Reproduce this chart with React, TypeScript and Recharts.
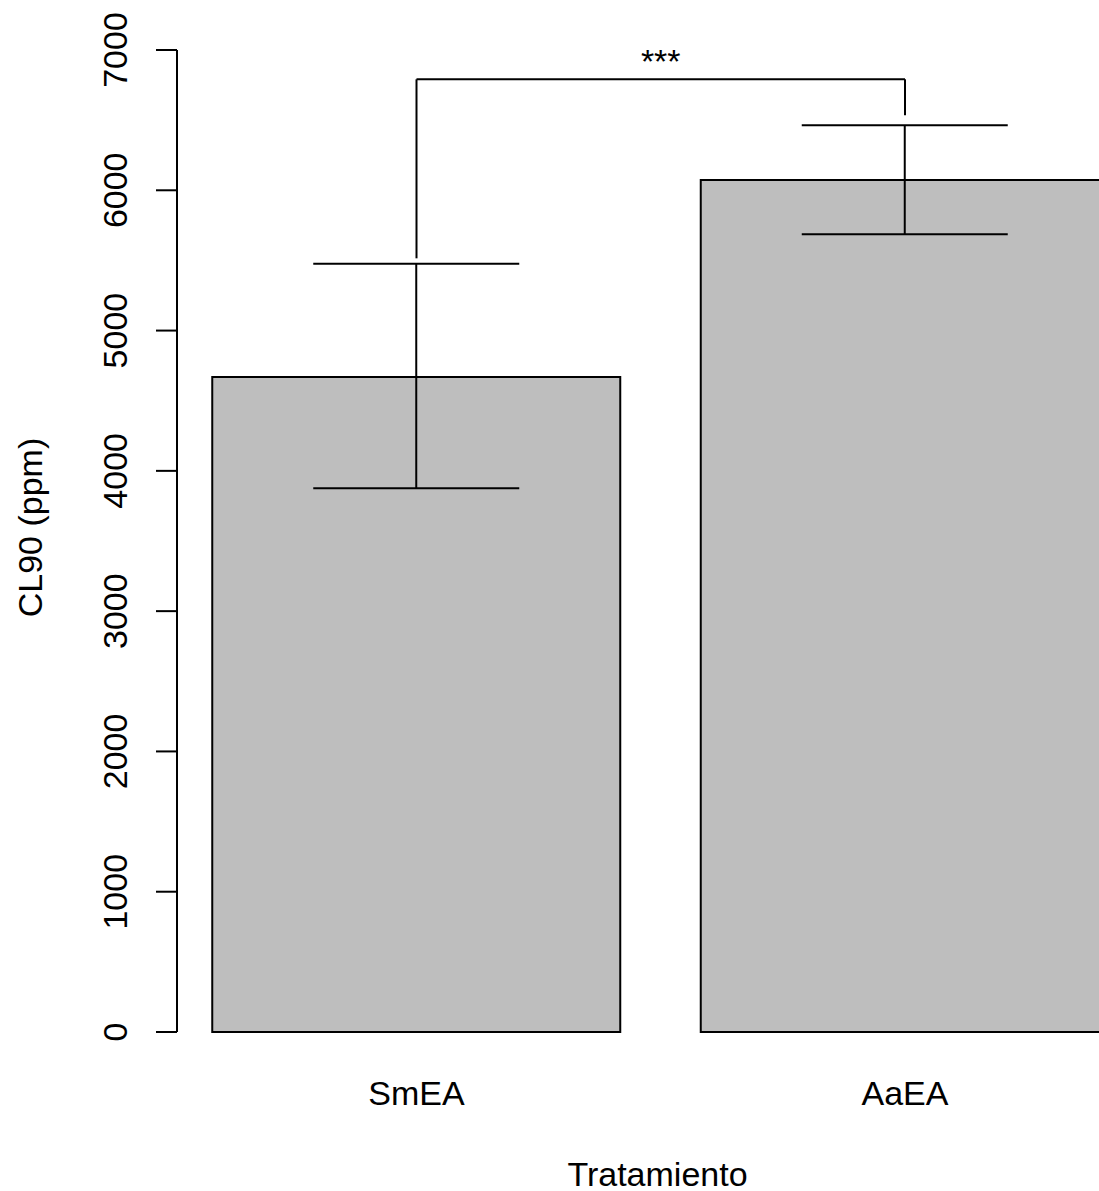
import {
  ComposedChart,
  Bar,
  ErrorBar,
  XAxis,
  YAxis,
  ReferenceLine,
} from "recharts";

const treatments = ["SmEA", "AaEA"];
const cl90 = [4669, 6073];
const errLow = [793, 387];
const errHigh = [808, 390];
const yTicks = [0, 1000, 2000, 3000, 4000, 5000, 6000, 7000];

// significance bracket: top height, and where each leg stops
const bracketTop = 6791;
const bracketLegs = [5515, 6534];
const bracketText = "***";

const data = treatments.map((name, i) => ({
  name,
  value: cl90[i],
  err: [errLow[i], errHigh[i]],
}));

const FONT = "'Liberation Sans', Arial, sans-serif";

const YTick = (props: any) => {
  const { y, payload } = props;
  return (
    <text
      x={127}
      y={y}
      transform={`rotate(-90 127 ${y})`}
      textAnchor="middle"
      fontSize={34}
      fontFamily={FONT}
      fill="#000"
    >
      {payload.value}
    </text>
  );
};

const XTick = (props: any) => {
  const { x, payload } = props;
  return (
    <text
      x={x}
      y={1105}
      textAnchor="middle"
      fontSize={34}
      fontFamily={FONT}
      fill="#000"
    >
      {payload.value}
    </text>
  );
};

export default function App() {
  return (
    <div
      style={{
        position: "absolute",
        left: 0,
        top: 0,
        width: 1099,
        height: 1191,
        overflow: "hidden",
        background: "#fff",
      }}
    >
      <ComposedChart
        width={1150}
        height={1191}
        data={data}
        margin={{ top: 50, right: 0.75, bottom: 99, left: 0 }}
      >
        <XAxis
          dataKey="name"
          axisLine={false}
          tickLine={false}
          height={60}
          padding={{ left: -4.75, right: 0 }}
          tick={<XTick />}
        />
        <YAxis
          type="number"
          domain={[0, 7000]}
          ticks={yTicks}
          interval={0}
          width={177}
          tickSize={21}
          axisLine={{ stroke: "#000", strokeWidth: 2 }}
          tickLine={{ stroke: "#000", strokeWidth: 2 }}
          tick={<YTick />}
        />
        <Bar
          dataKey="value"
          fill="#BEBEBE"
          stroke="#000"
          strokeWidth={2}
          barSize={408}
          isAnimationActive={false}
        >
          <ErrorBar
            dataKey="err"
            width={103}
            stroke="#000"
            strokeWidth={2}
            direction="y"
          />
        </Bar>
        <ReferenceLine
          segment={[
            { x: treatments[0], y: bracketLegs[0] },
            { x: treatments[0], y: bracketTop },
          ]}
          stroke="#000"
          strokeWidth={2}
          ifOverflow="visible"
        />
        <ReferenceLine
          segment={[
            { x: treatments[1], y: bracketLegs[1] },
            { x: treatments[1], y: bracketTop },
          ]}
          stroke="#000"
          strokeWidth={2}
          ifOverflow="visible"
        />
        <ReferenceLine
          segment={[
            { x: treatments[0], y: bracketTop },
            { x: treatments[1], y: bracketTop },
          ]}
          stroke="#000"
          strokeWidth={2}
          ifOverflow="visible"
          label={{
            value: bracketText,
            position: "top",
            offset: 6,
            fontSize: 34,
            fontFamily: FONT,
            fill: "#000",
          }}
        />
      </ComposedChart>
      <svg
        width={1099}
        height={1191}
        style={{ position: "absolute", left: 0, top: 0, pointerEvents: "none" }}
      >
        <text
          x={42}
          y={527.5}
          transform="rotate(-90 42 527.5)"
          textAnchor="middle"
          fontSize={34}
          fontFamily={FONT}
          fill="#000"
        >
          CL90 (ppm)
        </text>
        <text
          x={657.5}
          y={1186}
          textAnchor="middle"
          fontSize={34}
          fontFamily={FONT}
          fill="#000"
        >
          Tratamiento
        </text>
      </svg>
    </div>
  );
}
